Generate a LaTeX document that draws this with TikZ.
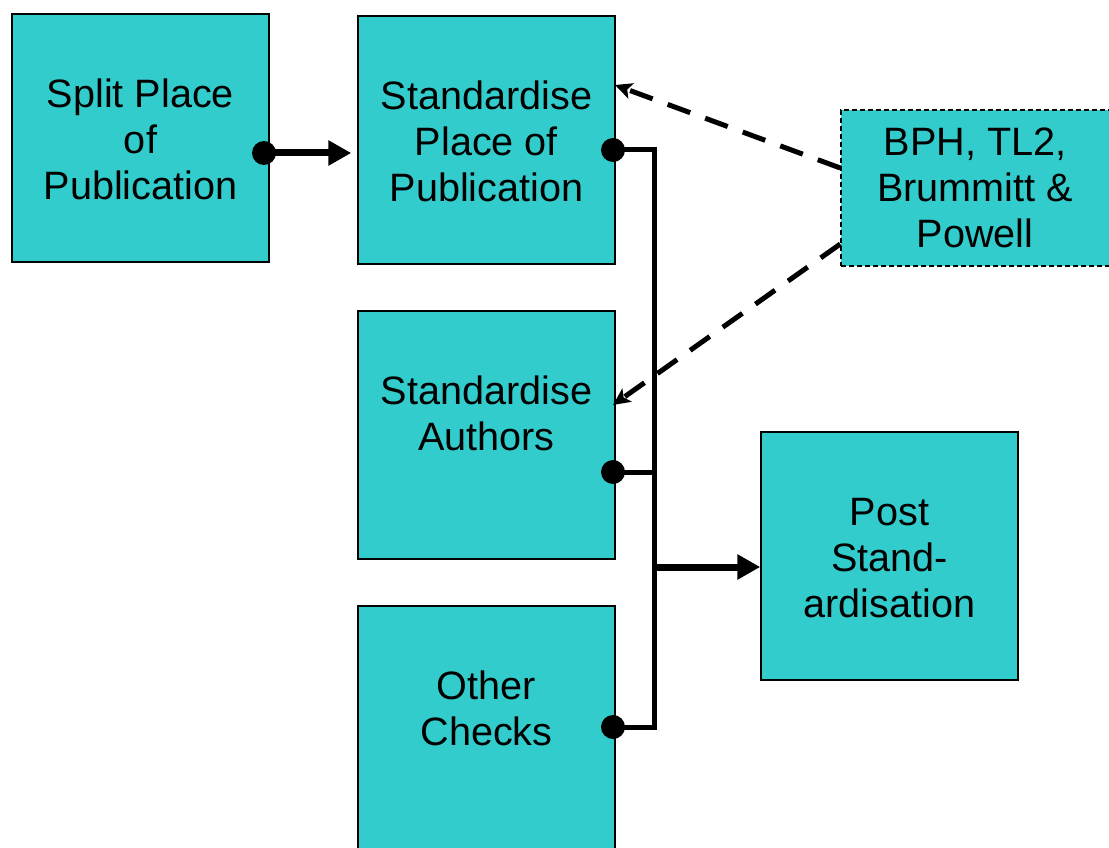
\documentclass[tikz,border=0pt]{standalone}
\usepackage{fontspec}
\setmainfont{Liberation Sans}
\usetikzlibrary{arrows.meta}
\definecolor{boxfill}{RGB}{51,204,204}
\tikzset{
  box/.style={draw=black, line width=1.5pt, fill=boxfill, rectangle,
    minimum width=257pt, minimum height=248pt, inner sep=0pt},
  srcbox/.style={box, dash pattern=on 5pt off 3pt, line width=1.4pt,
    minimum width=270pt, minimum height=156pt},
  % anchored at the baseline of the last line
  txt/.style={align=center, inner sep=0pt, anchor=base,
    font=\fontsize{39.6}{46}\selectfont},
  dot/.style={circle, fill=black, minimum size=24pt, inner sep=0pt},
  flow/.style={line width=7pt, -{Triangle[length=23pt, width=24pt]}},
  bus/.style={line width=5pt, line join=miter},
  ref/.style={line width=5pt, dash pattern=on 24pt off 16pt,
    -{Stealth[length=17pt, width=16pt, inset=4pt]}}
}
\begin{document}
\begin{tikzpicture}[x=1pt, y=-1pt]
\useasboundingbox (0,0) rectangle (1109,848);
\clip (0,0) rectangle (1109,848);

% process boxes
\node[box] (split) at (140.5,138) {};
\node[box] (stdplace) at (486.5,140) {};
\node[box] (authors) at (486.5,435) {};
\node[box] (other) at (486.5,730) {};
\node[box] (post) at (889.5,556) {};
\node[srcbox] (bph) at (976,188) {};

% box captions
\node[txt, yshift=-186pt] (split-t) at (split.north) {Split Place\\of\\Publication};
\node[txt, yshift=-186pt] (stdplace-t) at (stdplace.north) {Standardise\\Place of\\Publication};
\node[txt, yshift=-140pt] (authors-t) at (authors.north) {Standardise\\Authors};
\node[txt, yshift=-140pt] (other-t) at (other.north) {Other\\Checks};
\node[txt, yshift=-186pt] (post-t) at (post.north) {Post\\Stand-\\ardisation};
\node[txt, xshift=-1pt, yshift=-138pt] (bph-t) at (bph.north) {BPH, TL2,\\Brummitt \&\\Powell};

% output dots
\node[dot] (d0) at (264,153) {};
\node[dot] (d1) at (613,150) {};
\node[dot] (d2) at (613,472) {};
\node[dot] (d3) at (613,727) {};

% bus junctions
\coordinate (bus-top) at (654,150);
\coordinate (bus-mid) at (654,567);
\coordinate (bus-bot) at (654,727);
\coordinate (bus-auth) at (654,472);

% split -> standardise place
\draw[flow, shorten >=6pt] (d0.center) -- (stdplace.west |- d0);

% collecting bus
\draw[bus] (d1.center) -- (bus-top) -- (bus-bot) -- (d3.center);
\draw[bus] (d2.center) -- (bus-auth);
\draw[flow] (bus-mid) -- (post.west |- bus-mid);

% reference sources
\coordinate (bph-a) at (bph.west |- 0,168);
\coordinate (bph-b) at (bph.west |- 0,244);
\coordinate (tip-a) at (615,85);
\coordinate (tip-b) at (613,405);
\draw[ref] (bph-a) -- (tip-a);
\draw[ref] (bph-b) -- (tip-b);
\end{tikzpicture}
\end{document}
